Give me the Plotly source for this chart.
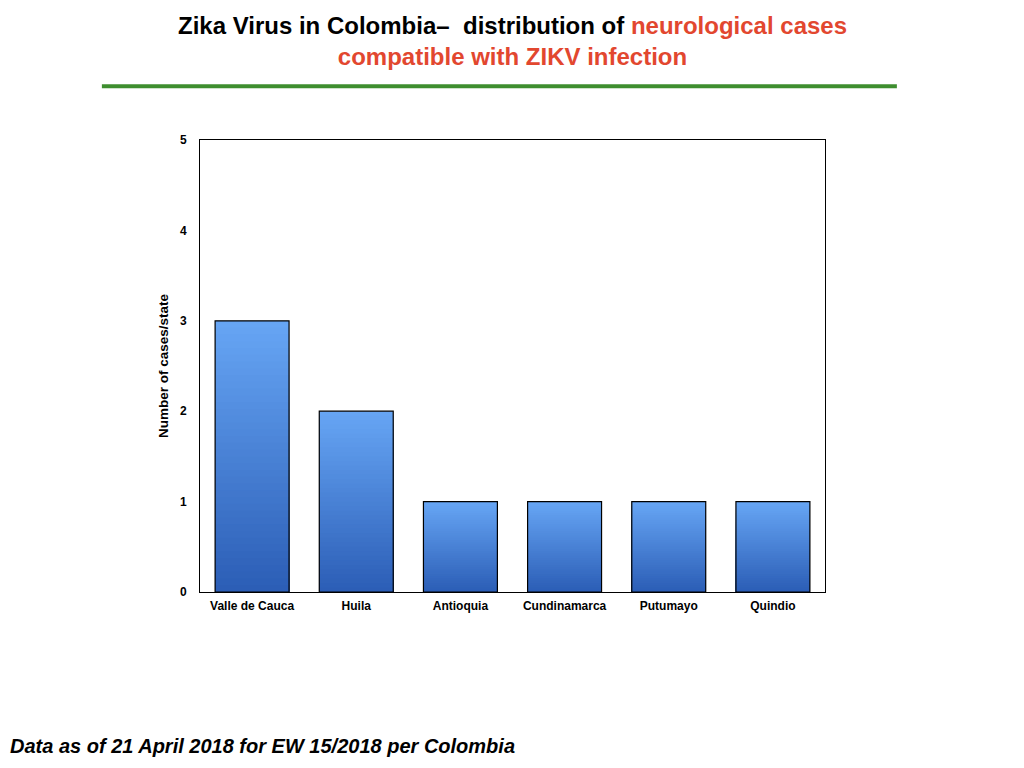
import plotly.graph_objects as go

# data
states = ['Valle de Cauca', 'Huila', 'Antioquia', 'Cundinamarca', 'Putumayo', 'Quindio']
cases = [3, 2, 1, 1, 1, 1]

# gradient colours (top -> bottom of each bar)
top_rgb = (102, 165, 244)
bottom_rgb = (44, 94, 182)
n_steps = 40

fig = go.Figure()

# fake a vertical gradient: full-height bar first, then ever shorter and darker
# bars drawn on top of it (overlapping, so no seams between slices)
for k in range(n_steps):
    frac = (n_steps - k) / n_steps
    t = (n_steps - 1 - k) / (n_steps - 1)  # 1 at top colour, 0 at bottom colour
    r, g, b = [round(bo + (tp - bo) * t) for bo, tp in zip(bottom_rgb, top_rgb)]
    fig.add_trace(go.Bar(
        x=states,
        y=[v * frac for v in cases],
        marker=dict(color=f'rgb({r},{g},{b})', line=dict(width=0)),
        hoverinfo='skip',
        showlegend=False,
    ))

# outline
fig.add_trace(go.Bar(
    x=states,
    y=cases,
    marker=dict(color='rgba(0,0,0,0)', line=dict(color='black', width=1.2)),
    showlegend=False,
))

fig.update_layout(
    width=1008, height=752,
    barmode='overlay',
    bargap=0.29,
    paper_bgcolor='white',
    plot_bgcolor='white',
    margin=dict(l=192, r=191, t=132, b=168),
    font=dict(family='Liberation Sans, Arial, sans-serif', color='black'),
    xaxis=dict(
        showline=True, linecolor='black', linewidth=1, mirror=True,
        showgrid=False, ticks='',
        tickfont=dict(size=12, weight='bold'),
        ticklabelstandoff=3,
    ),
    yaxis=dict(
        range=[0, 5], dtick=1,
        showline=True, linecolor='black', linewidth=1, mirror=True,
        showgrid=False, zeroline=False, ticks='',
        tickfont=dict(size=12, weight='bold'),
        ticklabelstandoff=10,
        title=dict(text='Number of cases/state', font=dict(size=13.5, weight='bold'), standoff=8),
    ),
    shapes=[dict(
        type='line', xref='paper', yref='paper',
        x0=-0.157, x1=1.115, y0=1.119, y1=1.119,
        line=dict(color='#3E8E2F', width=4),
    )],
    annotations=[
        dict(
            text=('Zika Virus in Colombia–  distribution of '
                  '<span style="color:#E2472F">neurological cases</span><br>'
                  '<span style="color:#E2472F">compatible with ZIKV infection</span>'),
            xref='paper', yref='paper', x=0.5, y=1.219,
            xanchor='center', yanchor='middle', showarrow=False,
            font=dict(size=24, weight='bold', color='black'),
            align='center',
        ),
        dict(
            text='<i>Data as of 21 April 2018 for EW 15/2018 per Colombia</i>',
            xref='paper', yref='paper', x=-0.307, y=-0.341,
            xanchor='left', yanchor='middle', showarrow=False,
            font=dict(size=20, weight='bold', color='black'),
        ),
    ],
)

fig.write_html('out.html')
